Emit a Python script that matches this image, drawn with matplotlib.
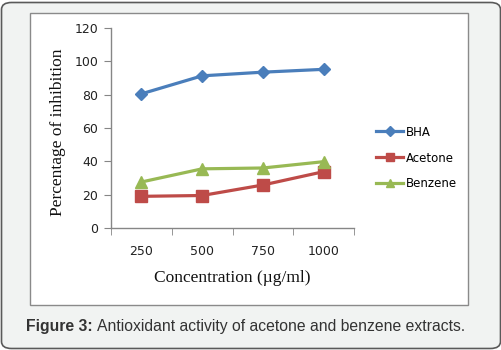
import matplotlib
matplotlib.use("Agg")
import matplotlib.pyplot as plt
from matplotlib.patches import FancyBboxPatch, Rectangle

categories = ["250", "500", "750", "1000"]
bha = [80.5, 91.3, 93.5, 95.2]
acetone = [19.0, 19.5, 25.8, 33.8]
benzene = [27.6, 35.5, 36.0, 39.8]
yticks = [0, 20, 40, 60, 80, 100, 120]

W, H = 502, 350
fig = plt.figure(figsize=(W / 100, H / 100), dpi=100)
fig.patch.set_facecolor("white")

# outer card
card = FancyBboxPatch((1.5 / W, 1.5 / H), (W - 3) / W, (H - 4) / H,
                      boxstyle="round,pad=0,rounding_size=0.02",
                      transform=fig.transFigure, facecolor="#f1f3f2",
                      edgecolor="#5a5a5a", linewidth=1.2, zorder=-2)
fig.patches.append(card)
inner = Rectangle((30 / W, 1 - 305 / H), (468 - 30) / W, (305 - 13) / H,
                  transform=fig.transFigure, facecolor="white",
                  edgecolor="#8a8a8a", linewidth=1.0, zorder=-1)
fig.patches.append(inner)

ax = fig.add_axes([111 / W, 1 - 228 / H, (354 - 111) / W, (228 - 28) / H])
ax.set_facecolor("none")
x = [1, 2, 3, 4]
ax.plot(x, bha, color="#4a7ebb", lw=2.3, marker="D", ms=6, label="BHA")
ax.plot(x, acetone, color="#be4b48", lw=2.3, marker="s", ms=8, label="Acetone")
ax.plot(x, benzene, color="#98b954", lw=2.3, marker="^", ms=8, label="Benzene")

ax.set_xlim(0.5, 4.5)
ax.set_ylim(0, 120)
ax.set_yticks(yticks)
ax.set_xticks(x)
ax.set_xticklabels(categories)
ax.set_xticks([0.5, 1.5, 2.5, 3.5, 4.5], minor=True)
ax.tick_params(axis="x", which="major", length=0, pad=12)
ax.tick_params(axis="x", which="minor", length=5, color="#868686", direction="out")
ax.tick_params(axis="y", length=5, color="#868686", direction="out", pad=4)
for lab in ax.get_xticklabels() + ax.get_yticklabels():
    lab.set_fontfamily("DejaVu Sans")
    lab.set_fontsize(9)
    lab.set_color("#222222")
for s in ["top", "right"]:
    ax.spines[s].set_visible(False)
for s in ["left", "bottom"]:
    ax.spines[s].set_color("#868686")
    ax.spines[s].set_linewidth(1.0)

fig.text(232 / W, 1 - 278 / H, "Concentration (µg/ml)", ha="center", va="center",
         fontfamily="Liberation Serif", fontsize=12.5, color="#111111")
fig.text(58 / W, 1 - 132 / H, "Percentage of inhibition", ha="center", va="center",
         rotation=90, fontfamily="Liberation Serif", fontsize=12.5, color="#111111")

leg = ax.legend(loc="center left", bbox_to_anchor=(376 / W, 1 - 158 / H),
                bbox_transform=fig.transFigure, frameon=False,
                prop={"family": "DejaVu Sans", "size": 8.5},
                handlelength=2.3, handletextpad=0.2, labelspacing=1.1,
                borderaxespad=0, borderpad=0, markerscale=0.8)

t1 = fig.text(26 / W, 1 - 326 / H, "Figure 3:", ha="left", va="center",
              fontfamily="Liberation Sans", fontweight="bold", fontsize=11.3,
              color="#333333")
fig.canvas.draw()
bb = t1.get_window_extent()
fig.text((bb.x1 + 4) / W, 1 - 326 / H,
         "Antioxidant activity of acetone and benzene extracts.",
         ha="left", va="center", fontfamily="Liberation Sans", fontsize=11.3,
         color="#333333")

fig.savefig("out.png", dpi=100)
